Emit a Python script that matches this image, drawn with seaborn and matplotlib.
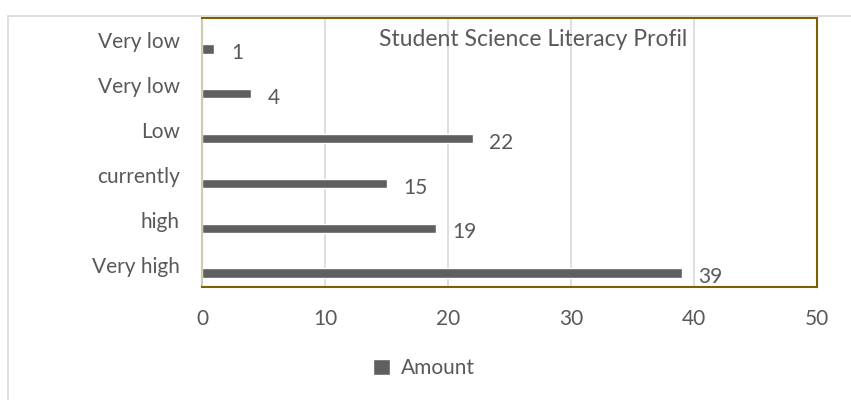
import matplotlib
matplotlib.use('Agg')
import matplotlib.pyplot as plt
from matplotlib.patches import Rectangle
import numpy as np
import pandas as pd
import seaborn as sns

# Data (top to bottom)
categories = ['Very low', 'Very low', 'Low', 'currently', 'high', 'Very high']
amounts = [1, 4, 22, 15, 19, 39]
x_ticks = [0, 10, 20, 30, 40, 50]
series_name = 'Amount'
title = 'Student Science Literacy Profil'

sns.set_theme(style='white')
plt.rcParams['font.family'] = ['Lato', 'DejaVu Sans']

text_col = '#595959'
bar_col = '#5f5f5f'
fs = 15

W, H = 851, 400
fig = plt.figure(figsize=(W / 100, H / 100), dpi=100)

# outer chart frame (only left/top visible in the reference)
fig.patches.append(Rectangle((8 / W, -0.1), 1.2, 1.1 - 16 / H,
                             transform=fig.transFigure, fill=False,
                             edgecolor='#d9d9d9', linewidth=1.2))

ax = fig.add_axes([202 / W, (H - 287) / H, (817 - 202) / W, (287 - 18) / H])

# bars sit a bit below their label, like in the excel original
offset = 0.19
df = pd.DataFrame({'pos': np.arange(len(categories)) + offset, 'amount': amounts})
sns.barplot(data=df, x='amount', y='pos', orient='h', native_scale=True,
            color=bar_col, saturation=1, width=0.21, ax=ax, label=series_name)
if ax.get_legend() is not None:
    ax.get_legend().remove()

for p, v in zip(df['pos'], df['amount']):
    ax.annotate(str(v), (v, p), xytext=(12, -3), textcoords='offset points',
                ha='left', va='center', fontsize=fs, color=text_col)

ax.set_xlim(0, 50)
ax.set_ylim(len(categories) - 0.5, -0.5)
ax.set_xticks(x_ticks)
ax.set_xticklabels([str(t) for t in x_ticks])
ax.set_yticks(np.arange(len(categories)))
ax.set_yticklabels(categories)
ax.tick_params(axis='both', length=0, labelsize=fs, labelcolor=text_col)
ax.tick_params(axis='y', pad=16)
ax.tick_params(axis='x', pad=16)
ax.set_xlabel('')
ax.set_ylabel('')

ax.xaxis.grid(True, color='#d9d9d9', linewidth=1.2)
ax.yaxis.grid(False)
ax.set_axisbelow(True)

for side in ['top', 'right', 'bottom']:
    ax.spines[side].set_color('#7f6000')
    ax.spines[side].set_linewidth(1.5)
ax.spines['left'].set_color('#d0c8b0')
ax.spines['left'].set_linewidth(1.5)

fig.text(533 / W, 1 - 40 / H, title, ha='center', va='center',
         fontsize=16.5, color=text_col)

handles, labels = ax.get_legend_handles_labels()
fig.legend(handles[:1], labels[:1], loc='center',
           bbox_to_anchor=(424 / W, 1 - 368 / H), frameon=False,
           fontsize=fs, handlelength=0.8, handleheight=0.8,
           handletextpad=0.5, labelcolor=text_col)

fig.savefig('out.png', dpi=100)
